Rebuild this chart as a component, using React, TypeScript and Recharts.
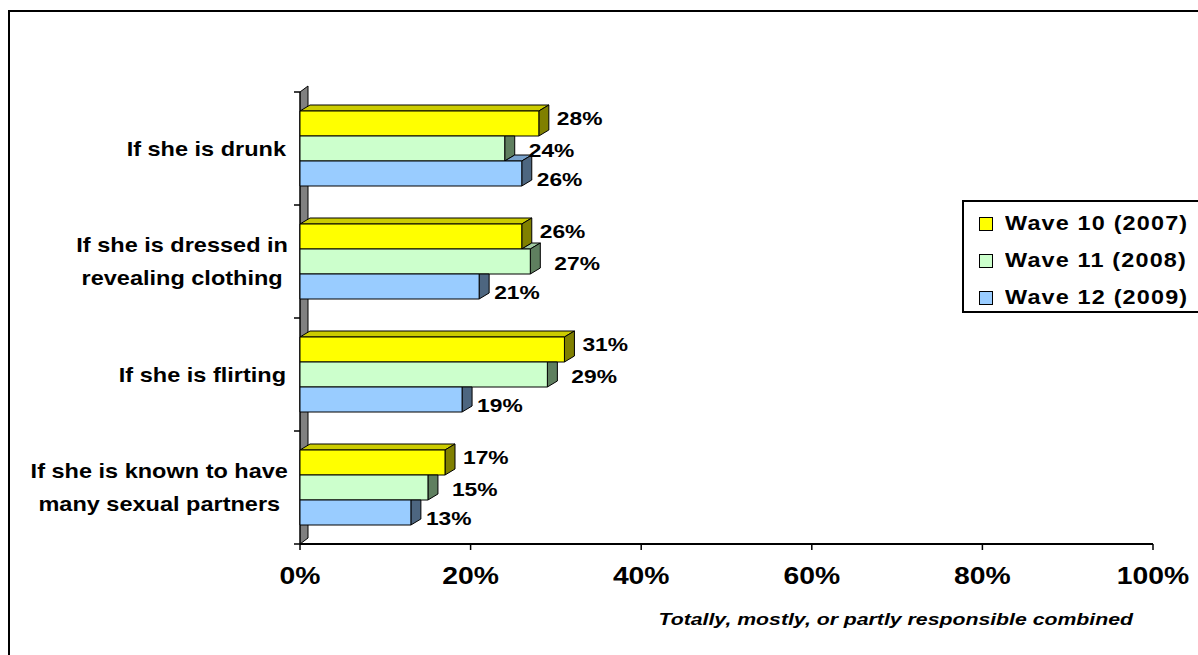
import React from "react";
import { BarChart, Bar, XAxis, YAxis, Legend, LabelList } from "recharts";

const categories = [
  "If she is drunk",
  "If she is dressed in revealing clothing",
  "If she is flirting",
  "If she is known to have many sexual partners",
];
const categoryLines = [
  ["If she is drunk"],
  ["If she is dressed in", "revealing clothing"],
  ["If she is flirting"],
  ["If she is known to have", "many sexual partners"],
];
const wave10 = [28, 26, 31, 17];
const wave11 = [24, 27, 29, 15];
const wave12 = [26, 21, 19, 13];
const seriesNames = ["Wave 10 (2007)", "Wave 11 (2008)", "Wave 12 (2009)"];
const xTicks = [0, 20, 40, 60, 80, 100];
const axisTitle = "Totally, mostly, or partly responsible combined";

const data = categories.map((name, i) => ({
  name,
  w10: wave10[i],
  w11: wave11[i],
  w12: wave12[i],
}));

const FONT = '"Liberation Sans", Arial, Helvetica, sans-serif';
const DX = 10; // depth of the 3d bars
const DY = 6;
const WALL_W = 8;
const CAT_GAP = 19;
const CAT_FONT = 21;
const STRETCH = 1.12; // the source text is a bit wider than plain Arial

const series = [
  { key: "w10", name: seriesNames[0], front: "#ffff00", top: "#cccc00", side: "#808000", prev: null, ldx: 8, ldy: -5 },
  { key: "w11", name: seriesNames[1], front: "#ccffcc", top: "#a3cca3", side: "#5f7f5f", prev: "w10", ldx: 14, ldy: 2 },
  { key: "w12", name: seriesNames[2], front: "#99ccff", top: "#7aa3cc", side: "#4d6680", prev: "w11", ldx: 5, ldy: 6 },
];

type Series = (typeof series)[number];

function WideText({ x, y, sx, size, anchor = "start", italic = false, children }: any) {
  return (
    <g transform={`translate(${x},${y}) scale(${sx},1)`}>
      <text
        x={0}
        y={0}
        textAnchor={anchor}
        dominantBaseline="central"
        fontFamily={FONT}
        fontWeight="bold"
        fontStyle={italic ? "italic" : "normal"}
        fontSize={size}
        fill="#000"
      >
        {children}
      </text>
    </g>
  );
}

function make3dBar(s: Series) {
  return (props: any) => {
    const { x, y, width, height, payload } = props;
    const v = payload[s.key];
    const ppu = v ? width / v : 0;
    const end = x + width;
    const prevEnd = s.prev ? x + payload[s.prev] * ppu : -Infinity;
    const topStart = Math.max(x, prevEnd);
    const st = { stroke: "#000", strokeWidth: 1, strokeLinejoin: "round" as const };
    const side =
      prevEnd >= end
        ? `${end},${y} ${end + DX},${y} ${end + DX},${y + height - DY} ${end},${y + height}`
        : `${end},${y} ${end + DX},${y - DY} ${end + DX},${y + height - DY} ${end},${y + height}`;
    return (
      <g>
        {topStart < end && (
          <polygon
            points={`${topStart},${y} ${topStart + DX},${y - DY} ${end + DX},${y - DY} ${end},${y}`}
            fill={s.top}
            {...st}
          />
        )}
        <polygon points={side} fill={s.side} {...st} />
        <rect x={x} y={y} width={width} height={height} fill={s.front} {...st} />
      </g>
    );
  };
}

// grey back wall, one segment per category band, drawn under all bars
function wallSegment(props: any) {
  const { x, y, height, index } = props;
  const top = y - CAT_GAP;
  const bottom = top + 2 * CAT_GAP + 3 * height;
  const first = index === 0;
  const last = index === data.length - 1;
  const tr = first ? top - DY : top;
  const br = last ? bottom - DY : bottom;
  return (
    <g>
      <polygon points={`${x},${top} ${x + WALL_W},${tr} ${x + WALL_W},${br} ${x},${bottom}`} fill="#808080" />
      <line x1={x} y1={top} x2={x} y2={bottom} stroke="#000" strokeWidth={1.5} />
      <line x1={x + WALL_W} y1={tr} x2={x + WALL_W} y2={br} stroke="#000" strokeWidth={1} />
      {first && <line x1={x} y1={top} x2={x + WALL_W} y2={tr} stroke="#000" strokeWidth={1} />}
      {last && <line x1={x} y1={bottom} x2={x + WALL_W} y2={br} stroke="#000" strokeWidth={1} />}
      <line x1={x - 6} y1={top} x2={x} y2={top} stroke="#000" strokeWidth={1.5} />
      {last && <line x1={x - 6} y1={bottom} x2={x} y2={bottom} stroke="#000" strokeWidth={1.5} />}
    </g>
  );
}

function makeLabel(s: Series) {
  return (props: any) => {
    const { x, y, width, height, value } = props;
    return (
      <WideText x={x + width + DX + s.ldx} y={y + height / 2 + s.ldy} sx={1.2} size={19}>
        {value}%
      </WideText>
    );
  };
}

let measureCtx: CanvasRenderingContext2D | null = null;
function textWidth(t: string) {
  if (!measureCtx) measureCtx = document.createElement("canvas").getContext("2d");
  if (!measureCtx) return t.length * CAT_FONT * 0.55 * STRETCH;
  measureCtx.font = `bold ${CAT_FONT}px ${FONT}`;
  return measureCtx.measureText(t).width * STRETCH;
}

function CategoryTick(props: any) {
  const { x, y, payload } = props;
  const i = categories.indexOf(payload.value);
  const lines = i >= 0 ? categoryLines[i] : [String(payload.value)];
  const right = x - 14;
  const maxW = Math.max(...lines.map(textWidth));
  const cx = right - maxW / 2;
  const multi = lines.length > 1;
  return (
    <g>
      {lines.map((ln, k) => (
        <WideText
          key={k}
          x={multi ? cx + 2 : right}
          y={y + (k - (lines.length - 1) / 2) * 33}
          sx={STRETCH}
          size={CAT_FONT}
          anchor={multi ? "middle" : "end"}
        >
          {ln}
        </WideText>
      ))}
    </g>
  );
}

function PercentTick(props: any) {
  const { x, y, payload } = props;
  return (
    <WideText x={x} y={y + 10} sx={1.18} size={24} anchor="middle">
      {payload.value}%
    </WideText>
  );
}

function LegendBox() {
  return (
    <div
      style={{
        width: 240,
        height: 113,
        boxSizing: "border-box",
        border: "2px solid #000",
        background: "#fff",
        paddingTop: 3,
        fontFamily: FONT,
      }}
    >
      {series.map((s) => (
        <div key={s.key} style={{ height: 37, display: "flex", alignItems: "center" }}>
          <span
            style={{
              display: "inline-block",
              flex: "none",
              width: 12,
              height: 12,
              marginLeft: 15,
              marginRight: 12,
              border: "1px solid #000",
              background: s.front,
            }}
          />
          <span
            style={{
              display: "inline-block",
              whiteSpace: "nowrap",
              fontWeight: "bold",
              fontSize: 20,
              letterSpacing: 1,
              color: "#000",
              transform: "scaleX(1.17)",
              transformOrigin: "left center",
            }}
          >
            {s.name}
          </span>
        </div>
      ))}
    </div>
  );
}

export default function App() {
  return (
    <div style={{ position: "absolute", left: 8, top: 0, width: 1190, height: 655, overflow: "hidden", background: "#fff" }}>
      <div
        style={{
          position: "absolute",
          left: 0,
          top: 10,
          width: 1260,
          height: 720,
          border: "2px solid #000",
          boxSizing: "border-box",
        }}
      />
      <div style={{ position: "absolute", left: 0, top: 0 }}>
        <BarChart
          width={1190}
          height={655}
          data={data}
          layout="vertical"
          margin={{ top: 92, right: 45, bottom: 21, left: 12 }}
          barCategoryGap={CAT_GAP}
          barGap={0}
        >
          <XAxis
            type="number"
            domain={[0, 100]}
            ticks={xTicks}
            height={90}
            tickSize={6}
            tickMargin={16}
            axisLine={{ stroke: "#000", strokeWidth: 2 }}
            tickLine={{ stroke: "#000", strokeWidth: 1.5 }}
            tick={<PercentTick />}
            label={{
              content: (p: any) => {
                const vb = p.viewBox;
                return (
                  <WideText x={vb.x + vb.width - 20} y={vb.y + 75} sx={1.25} size={17} anchor="end" italic>
                    {axisTitle}
                  </WideText>
                );
              },
            }}
          />
          <YAxis
            type="category"
            dataKey="name"
            width={280}
            axisLine={false}
            tickLine={false}
            tickSize={0}
            tickMargin={0}
            interval={0}
            tick={<CategoryTick />}
          />
          <Legend
            content={() => <LegendBox />}
            layout="horizontal"
            verticalAlign="middle"
            align="center"
            wrapperStyle={{ left: 954, top: 200, width: 240, height: 113 }}
          />
          {series.map((s, i) => (
            <Bar
              key={s.key}
              dataKey={s.key}
              name={s.name}
              shape={make3dBar(s)}
              background={i === 0 ? wallSegment : undefined}
              isAnimationActive={false}
            >
              <LabelList dataKey={s.key} content={makeLabel(s)} />
            </Bar>
          ))}
        </BarChart>
      </div>
    </div>
  );
}
